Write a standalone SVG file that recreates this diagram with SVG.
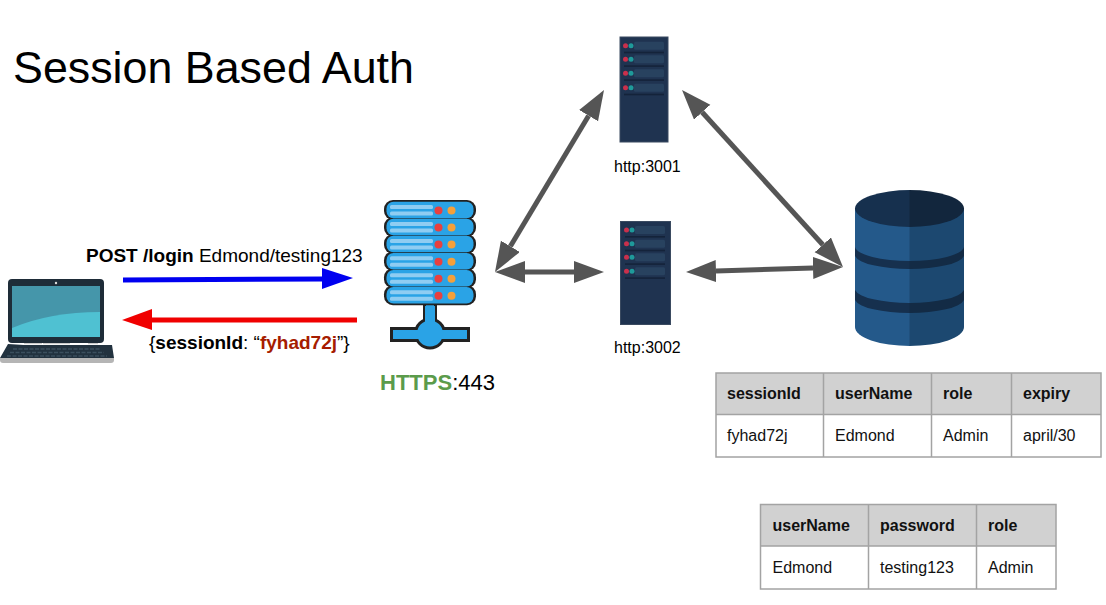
<svg xmlns="http://www.w3.org/2000/svg" width="1106" height="605" viewBox="0 0 1106 605">
<style>
text{font-family:"Liberation Sans",Arial,sans-serif;fill:#000}
.b{font-weight:bold}
.t{font-size:16px;fill:#111}
.th{fill:#d1d1d1}
.grid{stroke:#a3a3a3;stroke-width:1.5;fill:none}
.lnk{stroke:#555;stroke-width:5;fill:none;marker-start:url(#g);marker-end:url(#g)}
.row{fill:#2aa3e6}
.rowd{fill:#222}
.bar{fill:#8fcdf2}
.r{fill:#e8403f}.o{fill:#f5a03a}
.rack{fill:#1f3350;stroke:#3a4a60;stroke-width:1}
.slot{fill:#28425f}.sl2{fill:#14233a}.rd{fill:#c9304c}.tl{fill:#1f9a9a}
</style>
<defs>
<marker id="g" markerUnits="userSpaceOnUse" markerWidth="31" markerHeight="24" refX="0" refY="11" orient="auto-start-reverse"><path d="M0 0L30 11L0 22Z" fill="#555"/></marker>
<g id="rows">
<rect class="slot" x="14" y="4" width="30" height="8" rx="1.500"/><circle class="rd" cx="5.500" cy="8" r="2.500"/><circle class="tl" cx="11" cy="8" r="2.500"/><rect class="sl2" x="4" y="14" width="40" height="1.600"/>
</g>
<rect id="sdark" class="rowd" x="384" y="-1.500" width="92" height="20" rx="9"/>
<g id="srow">
<rect class="row" x="386.500" y="0.300" width="87" height="16.500" rx="7"/>
<rect class="bar" x="390" y="3.500" width="43" height="4" rx="1.500"/><rect class="bar" x="390" y="10" width="43" height="4" rx="1.500"/>
<circle class="r" cx="438.500" cy="9" r="4"/><circle class="o" cx="451.500" cy="9" r="4"/>
</g>
</defs>

<text id="title" x="13" y="83" font-size="44.800">Session Based Auth</text>

<g id="connectors">
<path d="M123 280L323 279" stroke="#0000f0" stroke-width="5" fill="none"/><path d="M322 268L353 278L322 289Z" fill="#0000f0"/>
<path d="M357 320L151 320" stroke="#f00000" stroke-width="5" fill="none"/><path d="M152 309L122 320L152 330Z" fill="#f00000"/>
<path class="lnk" d="M510.400 246.300L588.600 115.700"/>
<path class="lnk" d="M702.200 112.200L822.800 244.800"/>
<path class="lnk" d="M525 272L574 272"/>
<path class="lnk" d="M716 271L813 268"/>
</g>

<g id="laptop">
<path d="M8 344L24 345H96L112 345L114 358H0Z" fill="#22323f"/>
<path d="M0 358H114V360Q114 363 111 363H3Q0 363 0 360Z" fill="#b5b5b5"/>
<g stroke="#3b4f5e" stroke-width="1.500" stroke-dasharray="4 1.500"><path d="M13 349H101M10 352.500H104M7 356H107"/></g>
<rect x="8" y="279" width="96" height="64" rx="4" fill="#1e2c38"/>
<circle cx="56" cy="283" r="1.200" fill="#ddd"/>
<rect x="12" y="286" width="88" height="51" fill="#4596aa"/>
<path d="M12 328Q50 312 100 312V337H12Z" fill="#4fc1d2"/>
<rect x="24" y="343" width="18" height="1.200" fill="#ccc"/><rect x="43" y="343" width="27" height="1.200" fill="#ccc"/><rect x="88" y="343" width="10" height="1.200" fill="#ccc"/>
</g>

<g id="gateway">
<rect x="424.500" y="303" width="11" height="28" fill="#2aa3e6" stroke="#222" stroke-width="3"/>
<rect x="391.500" y="328.500" width="77" height="12" fill="#2aa3e6" stroke="#222" stroke-width="3"/>
<circle cx="430" cy="333.500" r="14.500" fill="#2aa3e6" stroke="#222" stroke-width="3"/>
<rect x="425" y="306" width="10" height="26" fill="#2aa3e6"/>
<rect x="393" y="330" width="74" height="9" fill="#2aa3e6"/>
<use href="#sdark" y="201.500"/><use href="#sdark" y="218.500"/><use href="#sdark" y="235.500"/><use href="#sdark" y="252.700"/><use href="#sdark" y="269.700"/><use href="#sdark" y="286.700"/>
<use href="#srow" y="201.500"/><use href="#srow" y="218.500"/><use href="#srow" y="235.500"/><use href="#srow" y="252.700"/><use href="#srow" y="269.700"/><use href="#srow" y="286.700"/>
<text x="380" y="390" font-size="22"><tspan class="b" style="fill:#5b9b4b">HTTPS</tspan>:443</text>
</g>

<g id="server-3001">
<rect class="rack" x="620" y="37" width="48" height="105"/>
<use href="#rows" x="620" y="37.700"/><use href="#rows" x="620" y="51.300"/><use href="#rows" x="620" y="65.300"/><use href="#rows" x="620" y="79.700"/>
<text x="614" y="172" font-size="16">http:3001</text>
</g>

<g id="server-3002">
<rect class="rack" x="620.500" y="221.500" width="50" height="103"/>
<use href="#rows" x="621" y="222"/><use href="#rows" x="621" y="235.700"/><use href="#rows" x="621" y="249.300"/><use href="#rows" x="621" y="263.300"/>
<text x="614" y="353" font-size="16">http:3002</text>
</g>

<g id="database">
<path d="M855 208V327A55 19 0 0 0 910 346V208Z" fill="#24598a"/>
<path d="M964 208V327A54.500 19 0 0 1 909.500 346V208Z" fill="#1c4870"/>
<path d="M855 247A55 15 0 0 0 910 261V269A55 15 0 0 1 855 256Z" fill="#16304e"/>
<path d="M964 247A54.500 15 0 0 1 909.500 261V269A54.500 15 0 0 0 964 256Z" fill="#132b45"/>
<path d="M855 290A55 15 0 0 0 910 303V313A55 15 0 0 1 855 300Z" fill="#16304e"/>
<path d="M964 290A54.500 15 0 0 1 909.500 303V313A54.500 15 0 0 0 964 300Z" fill="#132b45"/>
<path d="M910 190A55 18.500 0 0 0 910 227Z" fill="#16304e"/>
<path d="M909.500 190A54.500 18.500 0 0 1 909.500 227Z" fill="#12263d"/>
</g>

<g id="label-post"><text x="86" y="262" font-size="19"><tspan class="b">POST /login</tspan> Edmond/testing123</text></g>
<g id="label-session"><text x="149" y="349" font-size="19">{<tspan class="b">sessionId</tspan>: “<tspan class="b" style="fill:#a61c00">fyhad72j</tspan>”}</text></g>

<g id="sessions-table">
<rect class="th" x="716" y="373" width="385" height="41.500"/>
<rect class="grid" x="716" y="373" width="385" height="84"/>
<path class="grid" d="M716 414.500H1101M823.500 373V457M931.500 373V457M1011.500 373V457"/>
<text class="t b" x="727" y="399">sessionId</text><text class="t b" x="835" y="399">userName</text><text class="t b" x="943" y="399">role</text><text class="t b" x="1023" y="399">expiry</text>
<text class="t" x="727" y="441">fyhad72j</text><text class="t" x="835" y="441">Edmond</text><text class="t" x="943" y="441">Admin</text><text class="t" x="1023" y="441">april/30</text>
</g>

<g id="users-table">
<rect class="th" x="760.500" y="504.500" width="295.500" height="41.500"/>
<rect class="grid" x="760.500" y="504.500" width="295.500" height="84.500"/>
<path class="grid" d="M760.500 546H1056M868.500 504.500V589M976.500 504.500V589"/>
<text class="t b" x="772.500" y="531">userName</text><text class="t b" x="880" y="531">password</text><text class="t b" x="988" y="531">role</text>
<text class="t" x="772.500" y="573">Edmond</text><text class="t" x="880" y="573">testing123</text><text class="t" x="988" y="573">Admin</text>
</g>
</svg>
